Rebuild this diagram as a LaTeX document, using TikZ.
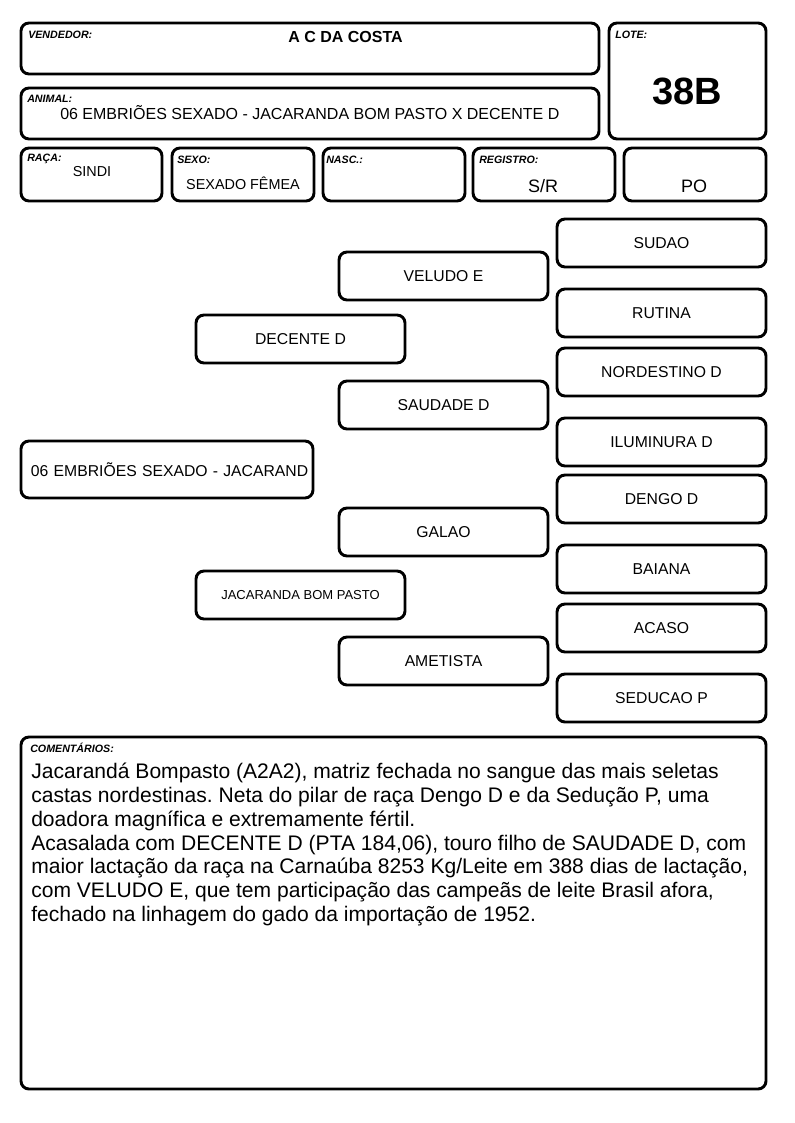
\documentclass[tikz,border=0pt]{standalone}
\usepackage{fontspec}
\setmainfont{Liberation Sans}
\frenchspacing
\begin{document}
\begin{tikzpicture}[x=0.75pt,y=-0.75pt]
  \tikzset{
    frame/.style={line width=2.2pt,rounded corners=6pt},
    lbl/.style={anchor=west,inner sep=0pt,font=\fontsize{8}{9}\selectfont\bfseries\itshape},
    val/.style={inner sep=0pt,font=\fontsize{12}{14}\selectfont},
    pbox/.style={draw,line width=2.2pt,rounded corners=6pt,minimum width=156.75pt,minimum height=36pt,inner sep=0pt,font=\fontsize{11.8}{14}\selectfont}
  }
  \useasboundingbox (0,0) rectangle (794,1123);

  % cabecalho
  \draw[frame] (21,23) rectangle (599,74);
  \draw[frame] (609,23) rectangle (766,139);
  \draw[frame] (21,88) rectangle (599,139);
  \draw[frame] (21,148) rectangle (162,201);
  \draw[frame] (172,148) rectangle (314,201);
  \draw[frame] (323,148) rectangle (465,201);
  \draw[frame] (473,148) rectangle (615,201);
  \draw[frame] (624,148) rectangle (766,201);

  \node[lbl] (vendedorlbl) at (28,35) {VENDEDOR:};
  \node[val,font=\fontsize{12}{14}\selectfont\bfseries] (vendedor) at (345.5,37) {A C DA COSTA};
  \node[lbl] (lotelbl) at (615,35) {LOTE:};
  \node[val,font=\fontsize{28.5}{30}\selectfont\bfseries] (lote) at (687,91) {38B};
  \node[lbl] (animallbl) at (27,99) {ANIMAL:};
  \node[val,anchor=west] (animal) at (60,113) {06 EMBRIÕES SEXADO - JACARANDA BOM PASTO X DECENTE D};
  \node[lbl] (racalbl) at (27,159) {RAÇA:};
  \node[val,font=\fontsize{10.8}{13}\selectfont] (raca) at (92,172) {SINDI};
  \node[lbl] (sexolbl) at (177,160) {SEXO:};
  \node[val,font=\fontsize{10.8}{13}\selectfont] (sexo) at (243,183) {SEXADO FÊMEA};
  \node[lbl] (nasclbl) at (326,160) {NASC.:};
  \node[lbl] (registrolbl) at (479,160) {REGISTRO:};
  \node[val,font=\fontsize{13.5}{15}\selectfont] (registro) at (543,186) {S/R};
  \node[val,font=\fontsize{13.5}{15}\selectfont] (categoria) at (694,186) {PO};

  % genealogia
  \node[pbox,minimum width=219pt,minimum height=42.75pt,inner xsep=7.5pt,text width=204pt,align=left] (animalped) at (167,469.5) {\mbox{06 EMBRIÕES SEXADO - JACARAND}};

  \node[pbox] (pai) at (300.5,339) {DECENTE D};
  \node[pbox,font=\fontsize{9.75}{11}\selectfont] (mae) at (300.5,595) {JACARANDA BOM PASTO};

  \node[pbox] (avopp) at (443.5,276) {VELUDO E};
  \node[pbox] (avopm) at (443.5,405) {SAUDADE D};
  \node[pbox] (avomp) at (443.5,532) {GALAO};
  \node[pbox] (avomm) at (443.5,661) {AMETISTA};

  \node[pbox] (bis1) at (661.5,243) {SUDAO};
  \node[pbox] (bis2) at (661.5,313) {RUTINA};
  \node[pbox] (bis3) at (661.5,372) {NORDESTINO D};
  \node[pbox] (bis4) at (661.5,442) {ILUMINURA D};
  \node[pbox] (bis5) at (661.5,499) {DENGO D};
  \node[pbox] (bis6) at (661.5,569) {BAIANA};
  \node[pbox] (bis7) at (661.5,628) {ACASO};
  \node[pbox] (bis8) at (661.5,698) {SEDUCAO P};

  % comentarios
  \draw[frame] (21,737) rectangle (766,1089);
  \node[lbl] (comentlbl) at (30,748) {COMENTÁRIOS:};
  \node[anchor=north west,inner sep=0pt,align=left,font=\fontsize{15.8}{17.85}\selectfont] (coment) at (31,763)
    {Jacarandá Bompasto (A2A2), matriz fechada no sangue das mais seletas\\
     castas nordestinas. Neta do pilar de raça Dengo D e da Sedução P, uma\\
     doadora magnífica e extremamente fértil.\\
     Acasalada com DECENTE D (PTA 184,06), touro filho de SAUDADE D, com\\
     maior lactação da raça na Carnaúba 8253 Kg/Leite em 388 dias de lactação,\\
     com VELUDO E, que tem participação das campeãs de leite Brasil afora,\\
     fechado na linhagem do gado da importação de 1952.};
\end{tikzpicture}
\end{document}
